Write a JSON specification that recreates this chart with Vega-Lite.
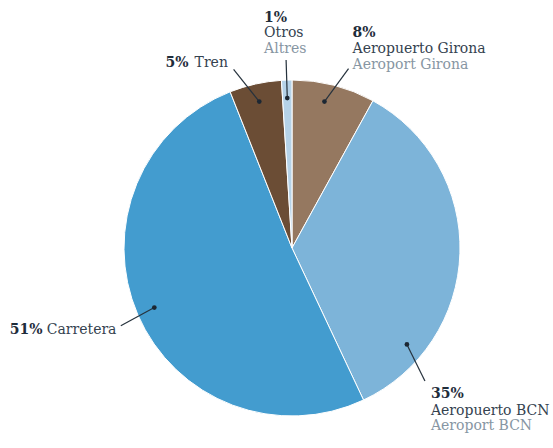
{
  "$schema": "https://vega.github.io/schema/vega-lite/v6.json",
  "width": 522,
  "height": 400,
  "autosize": {"type": "none"},
  "padding": {"left": 31, "top": 48, "right": 0, "bottom": 0},
  "background": "white",
  "config": {"view": {"stroke": null}, "font": "DejaVu Serif"},
  "data": {
    "values": [
      {"cat": "Aeropuerto Girona", "ca": "Aeroport Girona", "pct": 8, "order": 1},
      {"cat": "Aeropuerto BCN", "ca": "Aeroport BCN", "pct": 35, "order": 2},
      {"cat": "Carretera", "ca": "", "pct": 51, "order": 3},
      {"cat": "Tren", "ca": "", "pct": 5, "order": 4},
      {"cat": "Otros", "ca": "Altres", "pct": 1, "order": 5}
    ]
  },
  "transform": [
    {"window": [{"op": "sum", "field": "pct", "as": "cum"}], "sort": [{"field": "order"}], "frame": [null, 0]},
    {"calculate": "(datum.cum - datum.pct / 2) * 3.6", "as": "mid"},
    {"calculate": "datum.cat === 'Aeropuerto BCN' ? 130 : datum.cat === 'Aeropuerto Girona' ? 12.5 : datum.mid", "as": "dotA"},
    {"calculate": "datum.dotA + (datum.cat === 'Aeropuerto Girona' ? 5 : datum.cat === 'Tren' ? -5.5 : datum.cat === 'Carretera' ? -1 : datum.cat === 'Aeropuerto BCN' ? 5 : 0)", "as": "endA"},
    {"calculate": "150 * sin(datum.dotA * PI / 180)", "as": "dX"},
    {"calculate": "150 * cos(datum.dotA * PI / 180)", "as": "dY"},
    {"calculate": "188 * sin(datum.endA * PI / 180)", "as": "eX"},
    {"calculate": "188 * cos(datum.endA * PI / 180)", "as": "eY"},
    {"calculate": "datum.pct + '%'", "as": "pctLabel"},
    {"calculate": "datum.eX + (datum.cat === 'Aeropuerto Girona' ? 4 : datum.cat === 'Otros' ? -22 : datum.cat === 'Tren' ? -68 : datum.cat === 'Carretera' ? -111 : 6)", "as": "pX"},
    {"calculate": "datum.eY + (datum.cat === 'Aeropuerto Girona' ? 32 : datum.cat === 'Otros' ? 38 : datum.cat === 'Tren' ? 2 : datum.cat === 'Carretera' ? -8 : -17)", "as": "pY"},
    {"calculate": "datum.eX + (datum.cat === 'Aeropuerto Girona' ? 4 : datum.cat === 'Otros' ? -22 : datum.cat === 'Tren' ? -39 : datum.cat === 'Carretera' ? -74 : 6)", "as": "nX"},
    {"calculate": "datum.eY + (datum.cat === 'Aeropuerto Girona' ? 16 : datum.cat === 'Otros' ? 23 : datum.cat === 'Tren' ? 2 : datum.cat === 'Carretera' ? -8 : -34)", "as": "nY"},
    {"calculate": "datum.eY + (datum.cat === 'Aeropuerto Girona' ? 0 : datum.cat === 'Otros' ? 7 : -49)", "as": "cY"}
  ],
  "layer": [
    {
      "mark": {"type": "arc", "outerRadius": 168, "stroke": "white", "strokeWidth": 1},
      "encoding": {
        "theta": {"field": "pct", "type": "quantitative", "stack": true},
        "order": {"field": "order", "type": "quantitative"},
        "color": {
          "field": "cat",
          "type": "nominal",
          "legend": null,
          "scale": {
            "domain": ["Aeropuerto Girona", "Aeropuerto BCN", "Carretera", "Tren", "Otros"],
            "range": ["#957860", "#7db4d9", "#439ccf", "#6b4d35", "#b5d2e8"]
          }
        }
      }
    },
    {
      "mark": {"type": "rule", "stroke": "#26323d", "strokeWidth": 1.2},
      "encoding": {
        "x": {"field": "dX", "type": "quantitative", "scale": {"domain": [-261, 261], "nice": false, "zero": false}, "axis": null},
        "y": {"field": "dY", "type": "quantitative", "scale": {"domain": [-200, 200], "nice": false, "zero": false}, "axis": null},
        "x2": {"field": "eX"},
        "y2": {"field": "eY"}
      }
    },
    {
      "mark": {"type": "point", "filled": true, "size": 22, "color": "#1c2733", "opacity": 1},
      "encoding": {
        "x": {"field": "dX", "type": "quantitative"},
        "y": {"field": "dY", "type": "quantitative"}
      }
    },
    {
      "mark": {"type": "text", "align": "left", "baseline": "alphabetic", "fontSize": 14, "fontWeight": "bold", "color": "#1f2d3b"},
      "encoding": {
        "x": {"field": "pX", "type": "quantitative"},
        "y": {"field": "pY", "type": "quantitative"},
        "text": {"field": "pctLabel"}
      }
    },
    {
      "mark": {"type": "text", "align": "left", "baseline": "alphabetic", "fontSize": 14, "color": "#34424f"},
      "encoding": {
        "x": {"field": "nX", "type": "quantitative"},
        "y": {"field": "nY", "type": "quantitative"},
        "text": {"field": "cat"}
      }
    },
    {
      "transform": [{"filter": "datum.ca !== ''"}],
      "mark": {"type": "text", "align": "left", "baseline": "alphabetic", "fontSize": 14, "color": "#8796a3"},
      "encoding": {
        "x": {"field": "nX", "type": "quantitative"},
        "y": {"field": "cY", "type": "quantitative"},
        "text": {"field": "ca"}
      }
    }
  ]
}
